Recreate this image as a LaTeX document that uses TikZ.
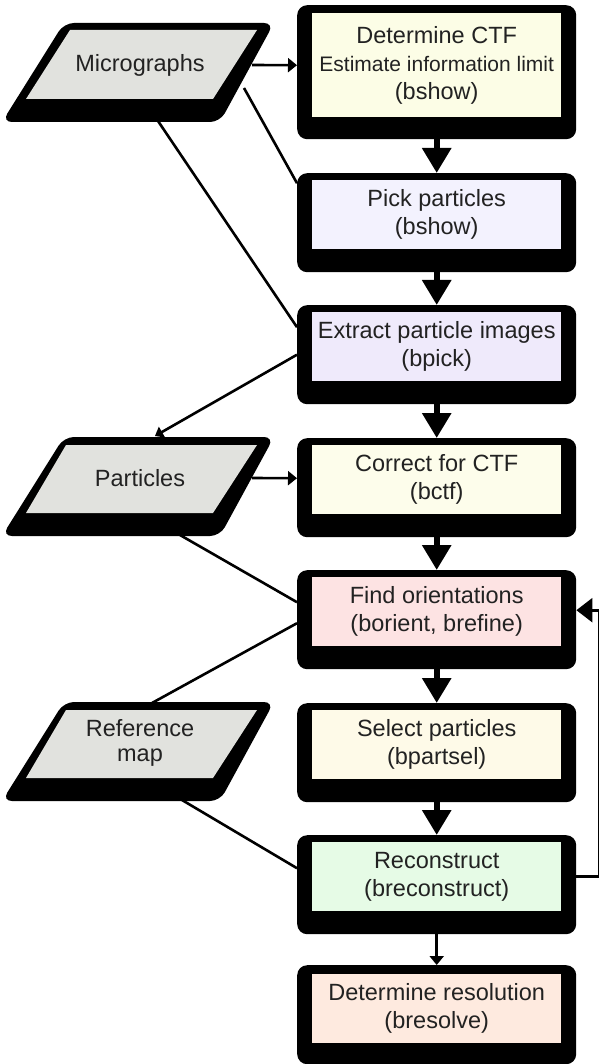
\documentclass[tikz,border=0pt]{standalone}
\usepackage{fontspec}
\setmainfont{Liberation Sans}
\usetikzlibrary{arrows.meta,calc}
\definecolor{txt}{HTML}{222222}
\definecolor{paragray}{HTML}{E1E2DE}
\definecolor{cA}{HTML}{FCFDE6}
\definecolor{cB}{HTML}{F3F2FE}
\definecolor{cC}{HTML}{EFEAFB}
\definecolor{cD}{HTML}{FDFDEB}
\definecolor{cE}{HTML}{FDE3E3}
\definecolor{cF}{HTML}{FEFAE8}
\definecolor{cG}{HTML}{E6FBE6}
\definecolor{cH}{HTML}{FEEADF}
\begin{document}
\begin{tikzpicture}[x=1pt,y=-1pt,
  outerbox/.style={fill=black, rounded corners=10pt, minimum width=279pt, minimum height=99pt, inner sep=0pt, anchor=north west},
  innerbox/.style={minimum width=249pt, minimum height=69pt, inner sep=0pt, anchor=north west, align=center, text=txt, font=\fontsize{23.5}{28}\selectfont},
  paraout/.style={fill=black, rounded corners=10pt},
  parain/.style={fill=paragray},
  paratext/.style={text=txt, font=\fontsize{23.5}{24.5}\selectfont, align=center, inner sep=0pt},
  conn/.style={draw=black, line width=2.6pt},
  smallarrow/.style={conn, -{Triangle[width=14pt,length=9pt]}},
  bigarrow/.style={draw=black, line width=6pt, -{Triangle[width=28pt,length=25pt]}},
  fbarrow/.style={conn, -{Triangle[width=24pt,length=16pt]}}
]
\useasboundingbox (0,0) rectangle (598,1064);

% ---------- parallelograms ----------
\fill[paraout] (64,23) -- (274,23) -- (220,122) -- (2,122) -- cycle;
\fill[parain] (70,30) -- (257,30) -- (213,99) -- (26,99) -- cycle;
\node[paratext] (mic) at (140,65) {Micrographs};

\fill[paraout] (64,437) -- (274,437) -- (220,536) -- (2,536) -- cycle;
\fill[parain] (66,445) -- (257,445) -- (213,513) -- (26,513) -- cycle;
\node[paratext] (par) at (140,478) {Particles};

\fill[paraout] (64,702) -- (274,702) -- (220,801) -- (2,801) -- cycle;
\fill[parain] (66,710) -- (257,710) -- (213,778) -- (26,778) -- cycle;
\node[paratext] (ref) at (140,743) {Reference\\map};

\coordinate (micA) at (252,65);
\coordinate (micB) at (244,88);
\coordinate (micC) at (158,121);
\coordinate (parT) at (155,436);
\coordinate (parA) at (252,478);
\coordinate (parB) at (180,535);
\coordinate (refT) at (152,703);
\coordinate (refB) at (182,800);

% ---------- boxes ----------
\node[outerbox, minimum height=134pt] (b1o) at (297,5) {};
\node[innerbox, fill=cA, minimum height=104pt] (b1) at (312,13)
  {Determine CTF\\{\fontsize{21}{25}\selectfont Estimate information limit}\\(bshow)};

\node[outerbox] (b2o) at (297,173) {};
\node[innerbox, fill=cB] (b2) at (312,180) {Pick particles\\(bshow)};

\node[outerbox] (b3o) at (297,305) {};
\node[innerbox, fill=cC] (b3) at (312,312) {Extract particle images\\(bpick)};

\node[outerbox] (b4o) at (297,438) {};
\node[innerbox, fill=cD] (b4) at (312,445) {Correct for CTF\\(bctf)};

\node[outerbox] (b5o) at (297,570) {};
\node[innerbox, fill=cE] (b5) at (312,577) {Find orientations\\(borient, brefine)};

\node[outerbox] (b6o) at (297,703) {};
\node[innerbox, fill=cF] (b6) at (312,710) {Select particles\\(bpartsel)};

\node[outerbox] (b7o) at (297,835) {};
\node[innerbox, fill=cG] (b7) at (312,842) {Reconstruct\\(breconstruct)};

\node[outerbox] (b8o) at (297,965) {};
\node[innerbox, fill=cH] (b8) at (312,974) {Determine resolution\\(bresolve)};

% ---------- vertical flow ----------
\draw[bigarrow] (b1.south) -- (b2o.north);
\draw[bigarrow] (b2.south) -- (b3o.north);
\draw[bigarrow] (b3.south) -- (b4o.north);
\draw[bigarrow] (b4.south) -- (b5o.north);
\draw[bigarrow] (b5.south) -- (b6o.north);
\draw[bigarrow] (b6.south) -- (b7o.north);
\draw[smallarrow] (b7o.south) -- (b8o.north);

% ---------- side connectors ----------
\draw[smallarrow] (micA) -- ([yshift=7pt]b1o.west);
\draw[conn] (micB) -- ([yshift=39.5pt]b2o.west);
\draw[conn] (micC) -- ([yshift=27.5pt]b3o.west);
\draw[conn, -{Triangle[width=12pt,length=8pt]}] (b3o.west) -- (parT);
\draw[smallarrow] (parA) -- ([yshift=9.5pt]b4o.west);
\draw[conn] (parB) -- ([yshift=17.5pt]b5o.west);
\draw[conn] (refT) -- ([yshift=-3.5pt]b5o.west);
\draw[conn] (refB) -- ([yshift=16.5pt]b7o.west);

% ---------- feedback loop ----------
\coordinate (fbx) at (598.9,0);
\coordinate (fbt) at ([yshift=9.5pt]b5o.east);
\draw[fbarrow] (b7.east) -- (b7.east -| fbx) -- (fbx |- fbt) -- (fbt);
\end{tikzpicture}
\end{document}
